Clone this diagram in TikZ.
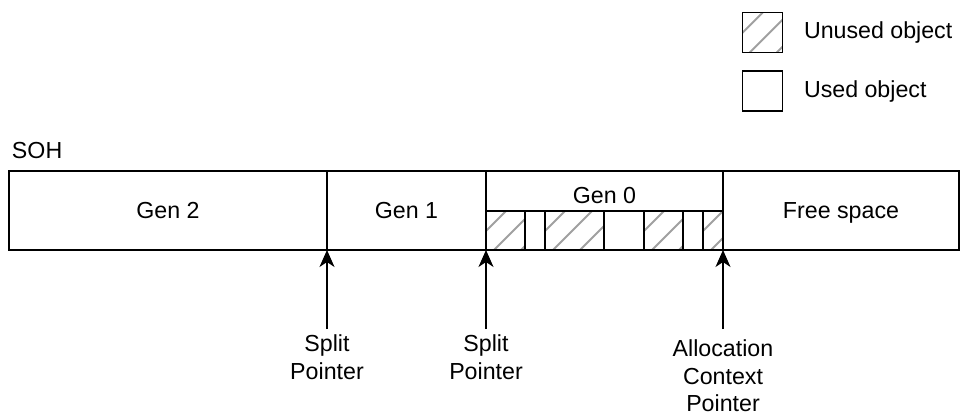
\documentclass[tikz,border=0pt]{standalone}
\usepackage{fontspec}
\setmainfont{Liberation Sans}
\usetikzlibrary{arrows.meta}
\definecolor{hatchgray}{RGB}{160,160,160}
\tikzset{
  every node/.style={font=\fontsize{23.2}{27.5}\selectfont, inner sep=0pt, outer sep=0pt},
  txt/.style={text height=16.5pt, text depth=0pt},
  box/.style={draw, line width=1.5pt, rectangle, txt},
  hatchline/.style={draw=hatchgray, line width=2pt, line cap=round},
  hatched/.style={path picture={
     \foreach \c in {20,47,74,101}{
       \draw[hatchline] ([xshift=\c pt]path picture bounding box.north west) -- ++(-110,110);
     }}},
  lbl/.style={align=center, anchor=north},
  ptr/.style={-{Stealth[length=17pt,width=15pt,inset=5pt]}, line width=1.5pt},
}
\begin{document}
\begin{tikzpicture}[x=1pt,y=-1pt]
\useasboundingbox (0,0) rectangle (961,416);

% legend
\node[box, hatched, minimum width=40, minimum height=40] (leg1) at (762.7,32.5) {};
\node[box, minimum width=40, minimum height=40] (leg2) at (762.7,91.2) {};
\node[anchor=base west] (leg1t) at (804,38.3) {Unused object};
\node[anchor=base west] (leg2t) at (804,97) {Used object};

% heap title
\node[anchor=base west] (soh) at (12,158.3) {SOH};

% segments
\node[box, minimum width=318, minimum height=79] (gen2) at (168,210.5) {Gen 2};
\node[box, minimum width=159, minimum height=79] (gen1) at (406.5,210.5) {Gen 1};
\node[box, minimum width=237, minimum height=79] (gen0) at (604.5,210.5) {};
\node[box, minimum width=236, minimum height=79] (free) at (841,210.5) {Free space};
\node[txt] (gen0lbl) at (604.5,195) {Gen 0};

% objects in Gen 0
\node[box, hatched, minimum width=39, minimum height=39] (c1) at (505.5,230.5) {};
\node[box, minimum width=20, minimum height=39] (c2) at (535,230.5) {};
\node[box, hatched, minimum width=59, minimum height=39] (c3) at (574.5,230.5) {};
\node[box, minimum width=40, minimum height=39] (c4) at (624,230.5) {};
\node[box, hatched, minimum width=39, minimum height=39] (c5) at (663.5,230.5) {};
\node[box, minimum width=20, minimum height=39] (c6) at (693,230.5) {};
\node[box, hatched, minimum width=20, minimum height=39] (c7) at (713,230.5) {};

% pointers
\coordinate (p1) at (327,329);
\coordinate (p2) at (486,329);
\coordinate (p3) at (723,329);
\draw[ptr] (p1) -- (gen2.south east);
\draw[ptr] (p2) -- (gen1.south east);
\draw[ptr] (p3) -- (gen0.south east);
\node[lbl] (sp1) at (327,335) {Split\\Pointer};
\node[lbl] (sp2) at (486,335) {Split\\Pointer};
\node[lbl] (acp) at (723,340) {Allocation\\Context\\Pointer};
\end{tikzpicture}
\end{document}
